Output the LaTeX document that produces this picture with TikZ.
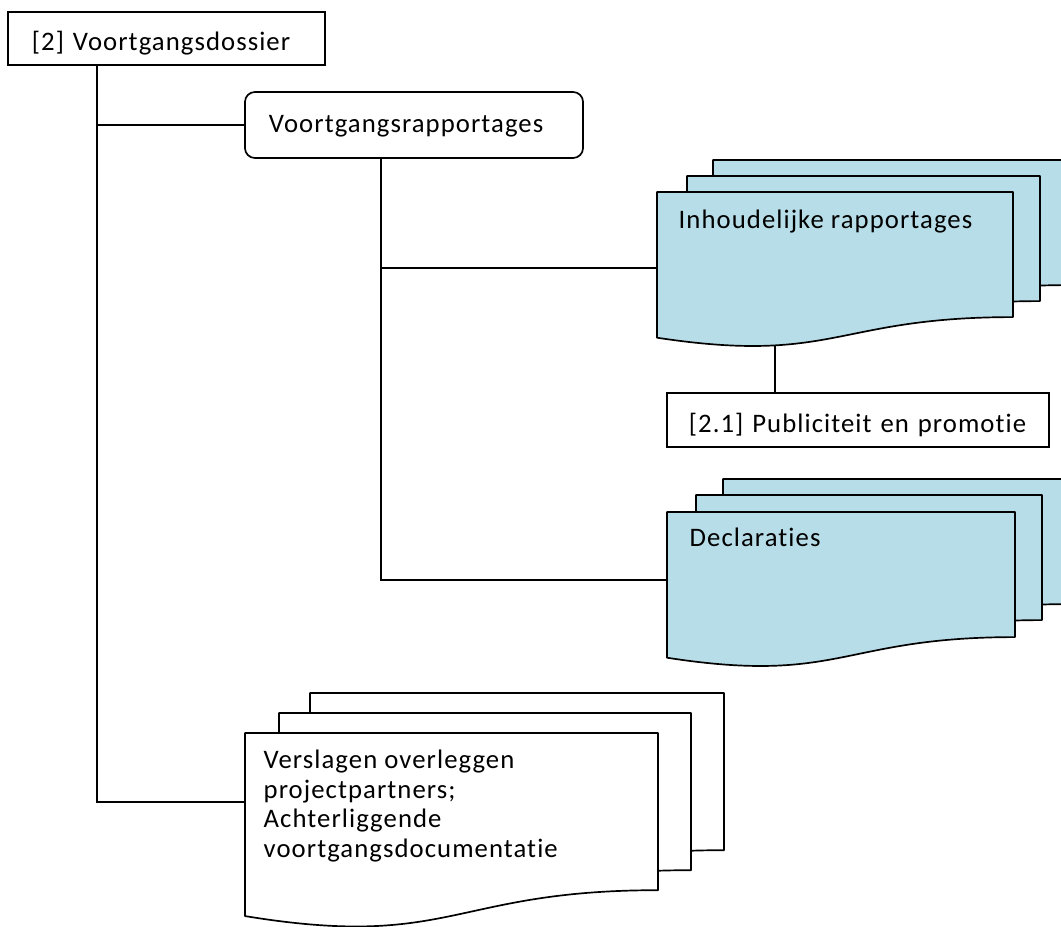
\documentclass[tikz,border=0pt]{standalone}
\usepackage{fontspec}
\setmainfont{Carlito}[Ligatures=NoCommon,LetterSpace=4.0]

\definecolor{docblue}{RGB}{183,221,232}

% one sheet of a document stack: left, top, right, height, fill
\newcommand{\docsheet}[5]{%
  \filldraw[fill=#5,line width=1.2pt,line join=round]
    (#1,#2) -- (#3,#2) -- (#3,{#2+0.802*#4})
    .. controls ({(#1+#3)/2},{#2+0.802*#4}) and ({(#1+#3)/2},{#2+1.107*#4}) ..
    (#1,{#2+0.934*#4}) -- cycle;}

\begin{document}
\begin{tikzpicture}[x=0.025cm,y=-0.025cm,line width=1pt,
  font=\fontsize{19}{21.3}\selectfont,
  box/.style={draw,line width=1.2pt,align=left,inner ysep=0pt},
  doc text/.style={align=left,inner sep=0pt}]

  \useasboundingbox (0,0) rectangle (1061,927);
  \clip (0,0) rectangle (1061,927);

  \coordinate (trunk) at (97,0);
  \coordinate (branch) at (381,0);
  \coordinate (inhoud-w) at (657,268);
  \coordinate (inhoud-s) at (775,346);
  \coordinate (decl-w) at (667,580);
  \coordinate (verslag-w) at (245,802);

  % document stacks, back sheets first
  \docsheet{713}{160}{1069}{156}{docblue}
  \docsheet{687}{176}{1040}{156}{docblue}
  \docsheet{657}{192}{1013}{156}{docblue}

  \docsheet{723}{479}{1069}{156}{docblue}
  \docsheet{696}{495}{1042}{156}{docblue}
  \docsheet{667}{512}{1015}{156}{docblue}

  \docsheet{310}{693}{724}{196}{white}
  \docsheet{279}{713}{691}{196}{white}
  \docsheet{245}{733}{658}{196}{white}

  \node[box,minimum height=1.325cm,text width=6.725cm,inner xsep=0.6cm,
    text height=0.75cm,text depth=0.175cm] (dossier) at (166.5,38.5)
    {[2] Voortgangsdossier};
  \node[box,rounded corners=0.25cm,minimum height=1.65cm,
    text width=7.25cm,inner xsep=0.6cm,
    text height=0.6cm,text depth=0.25cm] (rapport) at (414,125)
    {Voortgangsrapportages};
  \node[box,minimum height=1.35cm,text width=8.45cm,inner xsep=0.55cm,
    text height=0.8cm,text depth=0.2cm] (publ) at (858,420)
    {[2.1] Publiciteit en promotie};

  \node[doc text,anchor=base west] (inhoud) at (678,228)
    {Inhoudelijke rapportages};
  \node[doc text,anchor=base west] (decl) at (689,546) {Declaraties};
  \node[doc text,anchor=west] (verslag) at (263,806)
    {Verslagen overleggen\\projectpartners;\\Achterliggende\\voortgangsdocumentatie};

  % connectors
  \draw (trunk |- dossier.south) -- (trunk |- verslag-w) -- (verslag-w);
  \draw (trunk |- rapport.west) -- (rapport.west);
  \draw (branch |- rapport.south) -- (branch |- decl-w) -- (decl-w);
  \draw (branch |- inhoud-w) -- (inhoud-w);
  \draw (inhoud-s) -- (inhoud-s |- publ.north);

\end{tikzpicture}
\end{document}
